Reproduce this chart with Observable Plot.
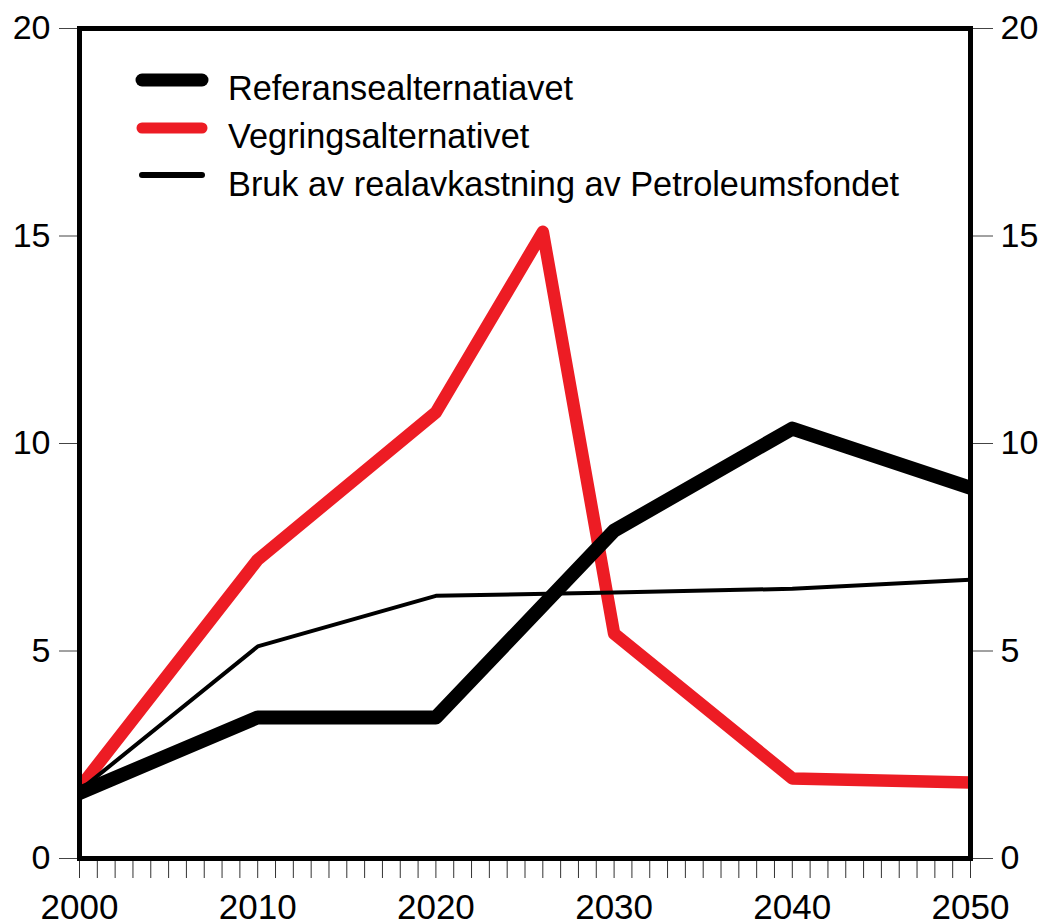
<!DOCTYPE html>
<html>
<head>
<meta charset="utf-8">
<script src="https://cdn.jsdelivr.net/npm/d3@7"></script>
<script src="https://cdn.jsdelivr.net/npm/@observablehq/plot@0.6"></script>
<style>
  html, body { margin: 0; padding: 0; background: #fff; }
  #wrap { position: relative; width: 1042px; height: 923px; overflow: hidden; font-family: "Liberation Sans", Arial, sans-serif; }
  #legend { position: absolute; left: 0; top: 0; width: 1042px; height: 230px; pointer-events: none; }
</style>
</head>
<body>
<div id="wrap"></div>
<script>
// ---- data ----
const refYears = [2000, 2010, 2020, 2030, 2040, 2050];
const referanse = [1.58, 3.4, 3.4, 7.9, 10.36, 8.93];

const vegYears = [2000, 2010, 2020, 2026, 2030, 2040, 2050];
const vegring = [1.7, 7.2, 10.75, 15.1, 5.42, 1.93, 1.83];

const brukYears = [2000, 2010, 2020, 2030, 2040, 2050];
const bruk = [1.64, 5.11, 6.33, 6.41, 6.5, 6.72];

const yTicks = [0, 5, 10, 15, 20];
const xMinorTicks = d3.range(2000, 2051);

const seriesNames = ["Referansealternatiavet", "Vegringsalternativet", "Bruk av realavkastning av Petroleumsfondet"];
const seriesColors = ["#000000", "#ed1c24", "#000000"];

const refData = refYears.map((x, i) => ({x, y: referanse[i]}));
const vegData = vegYears.map((x, i) => ({x, y: vegring[i]}));
const brukData = brukYears.map((x, i) => ({x, y: bruk[i]}));

const font = '"Liberation Sans", Arial, sans-serif';

const chart = Plot.plot({
  width: 1042,
  height: 923,
  marginLeft: 79,
  marginRight: 72,
  marginTop: 28,
  marginBottom: 65,
  style: {fontFamily: font, fontSize: "34px", color: "#000", background: "#fff", overflow: "visible"},
  x: {domain: [2000, 2050]},
  y: {domain: [0, 20]},
  marks: [
    Plot.axisY({anchor: "left", ticks: yTicks, tickSize: 20, tickPadding: 9, label: null, stroke: "#444", strokeWidth: 1, fontSize: 34}),
    Plot.axisY({anchor: "right", ticks: yTicks, tickSize: 22, tickPadding: 8, label: null, stroke: "#444", strokeWidth: 1, fontSize: 34}),
    Plot.axisX({ticks: xMinorTicks, tickSize: 20, tickPadding: 16, label: null, stroke: "#333", strokeWidth: 1, fontSize: 35,
      tickFormat: d => d % 10 === 0 ? String(d) : ""}),
    Plot.line(vegData, {x: "x", y: "y", stroke: seriesColors[1], strokeWidth: 12.5, strokeLinejoin: "round", strokeLinecap: "round", clip: true}),
    Plot.line(refData, {x: "x", y: "y", stroke: seriesColors[0], strokeWidth: 14, strokeLinejoin: "round", clip: true}),
    Plot.line(brukData, {x: "x", y: "y", stroke: seriesColors[2], strokeWidth: 4, strokeLinejoin: "round", clip: true}),
    Plot.frame({stroke: "#000", strokeWidth: 5})
  ]
});

const wrap = document.getElementById("wrap");
wrap.appendChild(chart);

// ---- legend (overlay inside plot area) ----
const ns = "http://www.w3.org/2000/svg";
const leg = document.createElementNS(ns, "svg");
leg.setAttribute("id", "legend");
leg.setAttribute("width", 1042);
leg.setAttribute("height", 230);
const legLineY = [80, 128, 175];
const legTextY = [100, 148, 196];
const legWidths = [13, 11, 6];
seriesNames.forEach((name, i) => {
  const ln = document.createElementNS(ns, "line");
  ln.setAttribute("x1", 142);
  ln.setAttribute("x2", 202);
  ln.setAttribute("y1", legLineY[i]);
  ln.setAttribute("y2", legLineY[i]);
  ln.setAttribute("stroke", seriesColors[i]);
  ln.setAttribute("stroke-width", legWidths[i]);
  ln.setAttribute("stroke-linecap", "round");
  leg.appendChild(ln);
  const t = document.createElementNS(ns, "text");
  t.setAttribute("x", 228);
  t.setAttribute("y", legTextY[i]);
  t.setAttribute("font-family", font);
  t.setAttribute("font-size", "34.3px");
  t.setAttribute("fill", "#000");
  t.textContent = name;
  leg.appendChild(t);
});
wrap.appendChild(leg);
</script>
</body>
</html>
